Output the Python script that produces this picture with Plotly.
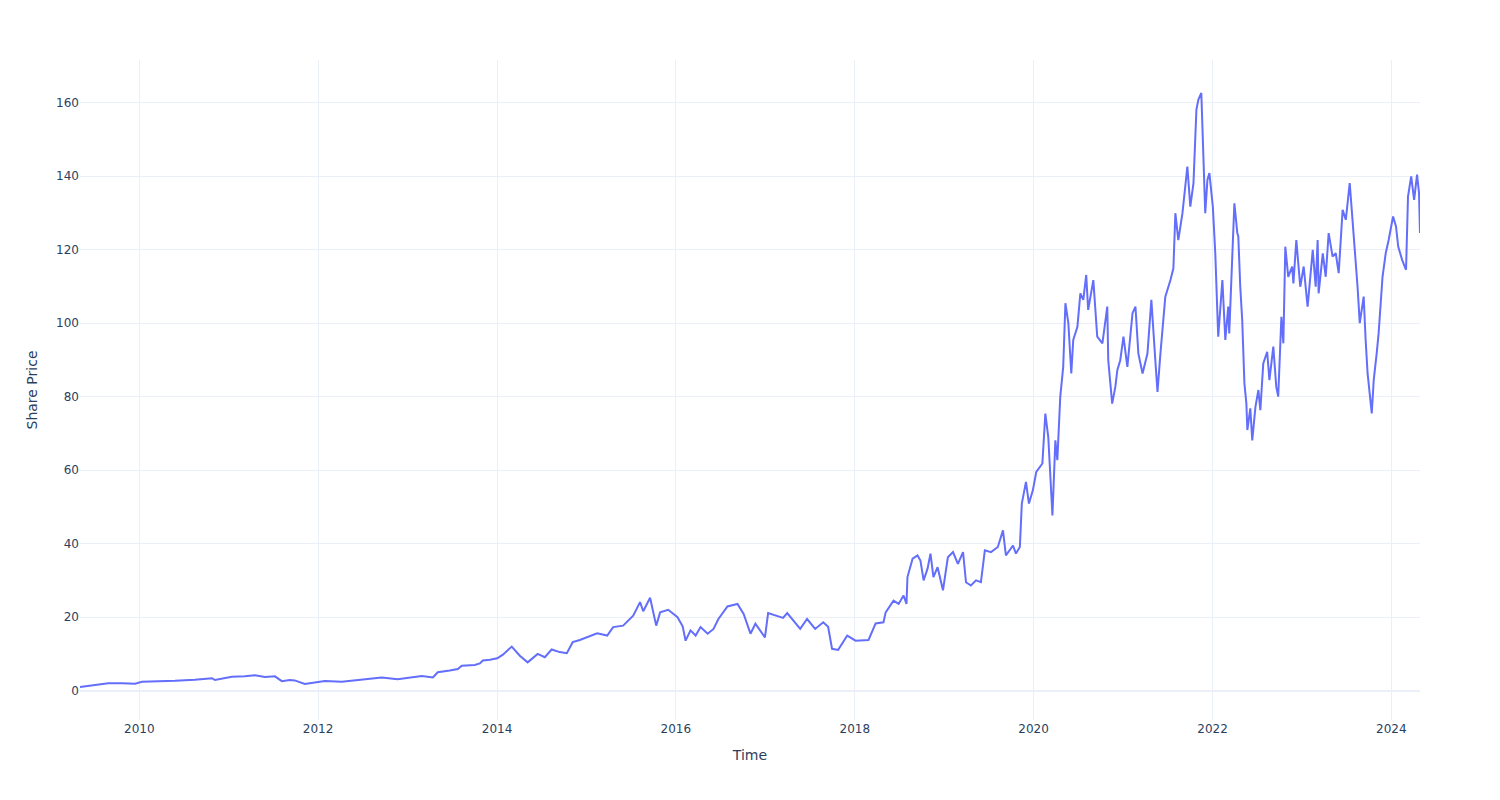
import plotly.graph_objects as go

# closing prices, approx. every few weeks + swing points
dates = [
    "2009-05-04", "2009-07-05", "2009-08-27", "2009-10-23", "2009-12-15",
    "2010-01-12", "2010-03-27", "2010-05-27", "2010-08-16", "2010-10-25", "2010-11-06",
    "2011-01-14", "2011-03-08", "2011-04-18", "2011-05-29", "2011-07-09", "2011-08-06",
    "2011-09-08", "2011-09-28", "2011-11-08", "2011-12-19",
    "2012-01-29", "2012-04-07", "2012-06-11", "2012-07-30", "2012-09-17", "2012-11-21",
    "2013-01-10", "2013-02-28", "2013-04-14", "2013-05-04", "2013-06-22", "2013-07-25",
    "2013-08-10", "2013-10-02", "2013-10-23", "2013-11-04", "2013-12-03",
    "2014-01-02", "2014-01-25", "2014-03-02", "2014-04-04", "2014-05-06", "2014-06-16",
    "2014-07-15", "2014-08-12", "2014-09-14", "2014-10-13", "2014-11-06", "2014-12-05",
    "2015-01-16", "2015-02-14", "2015-03-27", "2015-04-20", "2015-05-31", "2015-07-11",
    "2015-08-08", "2015-08-21", "2015-09-18", "2015-10-13", "2015-10-29", "2015-12-01",
    "2016-01-08", "2016-01-29", "2016-02-10", "2016-03-01", "2016-03-22", "2016-04-11",
    "2016-05-10", "2016-06-03", "2016-06-23", "2016-07-30", "2016-09-09", "2016-10-04",
    "2016-11-01", "2016-11-21", "2016-12-30",
    "2017-01-12", "2017-03-14", "2017-03-31", "2017-05-23", "2017-06-20", "2017-07-23",
    "2017-08-25", "2017-09-14", "2017-09-30", "2017-10-25", "2017-12-01",
    "2018-01-04", "2018-02-26", "2018-03-27", "2018-04-28", "2018-05-07", "2018-06-08",
    "2018-06-29", "2018-07-19", "2018-07-31", "2018-08-04", "2018-08-25", "2018-09-14",
    "2018-09-26", "2018-10-09", "2018-10-25", "2018-11-06", "2018-11-18", "2018-12-05",
    "2018-12-27",
    "2019-01-16", "2019-02-06", "2019-02-26", "2019-03-19", "2019-03-31", "2019-04-20",
    "2019-05-11", "2019-05-31", "2019-06-16", "2019-07-11", "2019-08-08", "2019-08-29",
    "2019-09-10", "2019-10-09", "2019-10-21", "2019-11-06", "2019-11-14", "2019-12-01",
    "2019-12-13", "2019-12-29",
    "2020-01-12", "2020-02-06", "2020-02-18", "2020-03-01", "2020-03-18", "2020-03-30",
    "2020-04-07", "2020-04-19", "2020-05-01", "2020-05-10", "2020-05-22", "2020-06-03",
    "2020-06-11", "2020-06-28", "2020-07-10", "2020-07-22", "2020-08-03", "2020-08-11",
    "2020-09-01", "2020-09-17", "2020-10-08", "2020-10-28", "2020-11-01", "2020-11-17",
    "2020-11-30", "2020-12-08", "2020-12-20",
    "2021-01-02", "2021-01-18", "2021-02-08", "2021-02-20", "2021-03-04", "2021-03-21",
    "2021-04-10", "2021-04-26", "2021-05-13", "2021-05-21", "2021-06-02", "2021-06-22",
    "2021-07-13", "2021-07-25", "2021-08-02", "2021-08-14", "2021-08-31", "2021-09-12",
    "2021-09-20", "2021-10-02", "2021-10-15", "2021-10-27", "2021-11-04", "2021-11-16",
    "2021-11-24", "2021-12-02", "2021-12-11", "2021-12-19",
    "2022-01-02", "2022-01-12", "2022-01-24", "2022-02-10", "2022-02-22", "2022-03-06",
    "2022-03-10", "2022-03-23", "2022-03-31", "2022-04-12", "2022-04-16", "2022-04-24",
    "2022-05-02", "2022-05-11", "2022-05-19", "2022-05-23", "2022-06-04", "2022-06-12",
    "2022-06-25", "2022-07-07", "2022-07-15", "2022-07-27", "2022-08-12", "2022-08-21",
    "2022-09-06", "2022-09-18", "2022-09-26", "2022-10-09", "2022-10-17", "2022-10-25",
    "2022-11-06", "2022-11-22", "2022-11-27", "2022-12-09", "2022-12-25",
    "2023-01-08", "2023-01-24", "2023-02-14", "2023-02-26", "2023-03-06", "2023-03-10",
    "2023-03-27", "2023-04-08", "2023-04-20", "2023-05-06", "2023-05-19", "2023-05-31",
    "2023-06-16", "2023-06-29", "2023-07-15", "2023-07-27", "2023-08-04", "2023-08-16",
    "2023-08-25", "2023-09-10", "2023-09-18", "2023-09-26", "2023-10-13", "2023-10-21",
    "2023-11-02", "2023-11-10", "2023-11-26", "2023-12-09", "2023-12-21",
    "2024-01-08", "2024-01-20", "2024-01-29", "2024-02-14", "2024-03-01", "2024-03-09",
    "2024-03-22", "2024-04-03", "2024-04-15", "2024-04-23", "2024-04-27",
]

share_price = [
    1.0, 1.5, 2.0, 2.0, 1.9,
    2.4, 2.5, 2.7, 3.0, 3.4, 2.9,
    3.8, 3.9, 4.2, 3.7, 3.9, 2.6,
    2.9, 2.8, 1.8, 2.2,
    2.6, 2.4, 2.9, 3.3, 3.6, 3.1,
    3.5, 4.0, 3.6, 5.0, 5.5, 5.9,
    6.8, 7.0, 7.4, 8.2, 8.4,
    8.8, 9.8, 12.0, 9.5, 7.7, 10.0,
    9.1, 11.2, 10.5, 10.2, 13.2, 13.8,
    14.8, 15.6, 15.0, 17.3, 17.7, 20.4,
    24.1, 21.6, 25.3, 17.7, 21.3, 22.0,
    20.0, 17.5, 13.6, 16.4, 15.0, 17.3,
    15.5, 16.8, 19.5, 22.9, 23.6, 20.9,
    15.5, 18.2, 14.5,
    21.1, 19.8, 21.1, 16.8, 19.5, 16.8,
    18.6, 17.4, 11.4, 11.1, 15.0,
    13.6, 13.8, 18.3, 18.6, 21.3, 24.5,
    23.6, 25.9, 23.6, 30.9, 35.9, 36.8,
    35.4, 30.0, 33.2, 37.3, 30.9, 33.6,
    27.3,
    36.3, 37.7, 34.5, 37.7, 29.5, 28.6,
    30.0, 29.5, 38.2, 37.7, 39.1, 43.6,
    36.8, 39.5, 37.3, 39.1, 50.9, 56.8,
    50.9, 54.5,
    59.5, 61.8, 75.4, 69.0, 47.7, 68.1,
    62.7, 80.0, 88.1, 105.4, 100.0, 86.3,
    95.4, 99.0, 108.1, 106.3, 113.1, 103.6,
    111.7, 96.3, 94.5, 104.5, 89.9, 78.1,
    82.7, 87.2, 89.9,
    96.3, 88.1, 102.7, 104.5, 91.7, 86.3,
    91.7, 106.3, 89.0, 81.3, 91.7, 107.2,
    111.7, 114.9, 129.9, 122.6, 129.9, 137.2,
    142.6, 131.7, 138.1, 158.1, 160.8, 162.6,
    148.1, 129.9, 139.0, 140.8,
    131.7, 119.0, 96.3, 111.7, 95.4, 104.5,
    97.2, 116.7, 132.6, 124.5, 123.6, 109.9,
    100.8, 83.6, 78.1, 70.9, 76.8, 68.1,
    77.2, 81.8, 76.3, 89.0, 92.2, 84.5,
    93.6, 82.7, 80.0, 101.7, 94.5, 120.8,
    112.6, 115.4, 110.8, 122.6, 109.9,
    115.4, 104.5, 119.9, 109.9, 122.6, 108.1,
    119.0, 112.6, 124.5, 118.1, 119.0, 113.6,
    130.8, 128.1, 138.1, 128.1, 120.8, 109.9,
    100.0, 107.2, 95.4, 86.3, 75.4, 84.5,
    91.7, 97.2, 112.6, 119.0, 122.6,
    129.0, 126.3, 120.8, 117.2, 114.5, 134.4,
    139.9, 133.5, 140.4, 135.4, 124.5,
]

fig = go.Figure()
fig.add_trace(go.Scatter(x=dates, y=share_price, mode="lines", line=dict(color="#636efa")))

fig.update_layout(
    template="plotly_white",
    font=dict(family="DejaVu Sans"),
    xaxis_title="Time",
    yaxis_title="Share Price",
    # page body adds 8px, so trim the default margins to land the plot where the reference has it
    margin=dict(l=72, r=72, t=52, b=72),
)
fig.write_html("out.html")
